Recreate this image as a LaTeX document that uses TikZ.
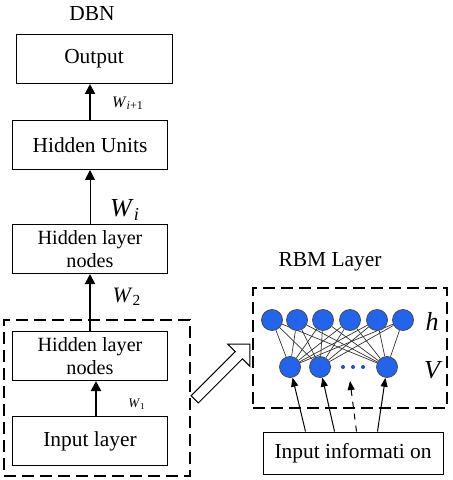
\documentclass[tikz,border=0pt]{standalone}
\usepackage{fontspec}
\setmainfont{Liberation Serif}
\setsansfont{Liberation Serif}
\usetikzlibrary{shapes.arrows, arrows.meta, positioning, backgrounds, calc}
\definecolor{unitblue}{RGB}{35,100,235}

\begin{document}
\begin{tikzpicture}[
    x=0.5pt, y=-0.5pt,
    every node/.style={font=\rmfamily},
    block/.style={rectangle, draw, line width=0.5pt, minimum width=77.5pt, minimum height=24.5pt, inner sep=0pt, align=center, font=\rmfamily\fontsize{10.7}{12}\selectfont},
    layerblock/.style={block, font=\rmfamily\fontsize{10.1}{11.5}\selectfont},
    dashbox/.style={rectangle, draw, line width=1pt, dash pattern=on 6pt off 3pt, inner sep=0pt},
    unit/.style={circle, draw=black!70, line width=0.4pt, fill=unitblue, minimum size=10.5pt, inner sep=0pt},
    dot/.style={circle, fill=unitblue!80!black, minimum size=2pt, inner sep=0pt},
    arrow/.style={-{Triangle[length=5pt, width=5pt]}, line width=1pt},
    thinarrow/.style={-{Triangle[length=5pt, width=5pt]}, line width=0.5pt},
    inarrow/.style={-{Triangle[length=4.5pt, width=3.5pt]}, line width=0.5pt},
    link/.style={line width=0.35pt, black!80},
    title/.style={font=\rmfamily\fontsize{10.7}{12}\selectfont},
]
\useasboundingbox (0,0) rectangle (453,480);

% DBN stack
\node[title] (dbn) at (92,14) {DBN};
\node[block, minimum width=78pt] (out) at (94,59) {Output};
\node[block] (hu) at (90,145) {Hidden Units};
\node[layerblock] (hid2) at (90,249) {Hidden layer\\nodes};
\node[layerblock] (hid1) at (90,356) {Hidden layer\\nodes};
\node[block] (inp) at (90,441) {Input layer};

\draw[arrow] (hu.north) -- (hu.north |- out.south);
\draw[thinarrow] (hid2.north) -- (hu.south);
\draw[arrow] (hid1.north) -- (hid2.south);
\draw[arrow] ($(inp.north)+(6,0)$) -- ($(hid1.south)+(6,0)$);

\node[font=\rmfamily\fontsize{8}{8}\selectfont] (w4) at (128,103) {\textit{W}\textsubscript{\textit{i}+1}};
\node[font=\rmfamily\fontsize{13}{13}\selectfont] (w3) at (125,210) {\textit{W}\textsubscript{\textit{i}}};
\node[font=\rmfamily\fontsize{11}{11}\selectfont] (w2) at (127,297) {\textit{W}\textsubscript{2}};
\node[font=\rmfamily\fontsize{6.5}{6.5}\selectfont] (w1) at (137,404) {\textit{W}\textsubscript{1}};

\node[dashbox, minimum width=93pt, minimum height=78pt] (stack) at (97,398) {};

% hollow arrow
\node[single arrow, draw, line width=0.5pt, fill=white, rotate=45, minimum height=39pt,
      single arrow head extend=5.3pt, single arrow tip angle=90, inner xsep=0pt, inner ysep=2.3pt] (zoomarrow) at (220.5,373.5) {};

% RBM layer
\node[title] (rbm) at (330,262) {RBM Layer};
\node[dashbox, minimum width=97pt, minimum height=60pt] (rbmbox) at (350,348) {};

\foreach \x [count=\i] in {272,297,323,350,377,403}
    \node[unit] (h\i) at (\x,320) {};
\foreach \x [count=\i] in {290,320,387}
    \node[unit] (v\i) at (\x,367) {};
\foreach \x [count=\i] in {343,353,363}
    \node[dot] (d\i) at (\x,367) {};

\begin{scope}[on background layer]
    \foreach \i in {1,...,6}
        \foreach \j in {1,2,3}
            \draw[link] (h\i) -- (v\j);
\end{scope}

\node[font=\rmfamily\fontsize{13}{13}\selectfont\itshape] (hlab) at (432,321) {h};
\node[font=\rmfamily\fontsize{13}{13}\selectfont\itshape] (vlab) at (432,370) {V};

\node[block, minimum width=90pt, minimum height=21pt] (info) at (353,453) {Input informati on};

\coordinate (dotend) at (350,381);
\draw[inarrow] ($(info.north west)+(43,0)$) -- (v1);
\draw[inarrow] ($(info.north west)+(72,0)$) -- (v2);
\draw[inarrow, dashed] ($(info.north west)+(94,0)$) -- (dotend);
\draw[inarrow] ($(info.north west)+(115,0)$) -- (v3);

\end{tikzpicture}
\end{document}
